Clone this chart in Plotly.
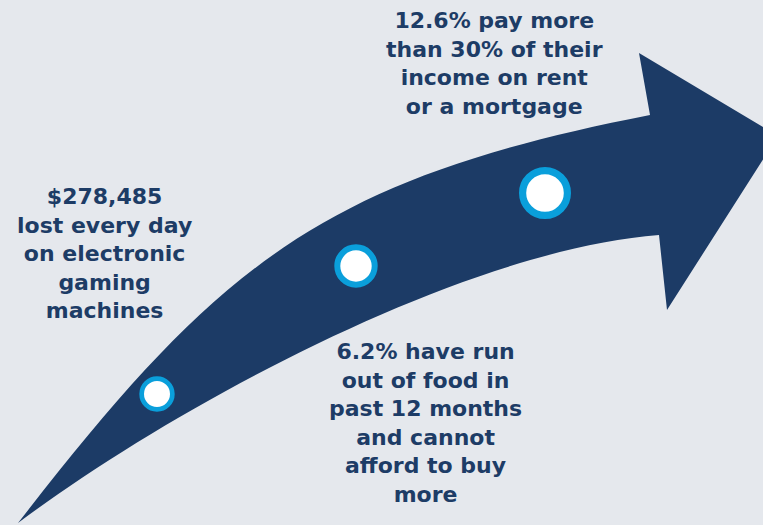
import plotly.graph_objects as go

# ---- data ----
stat_labels = [
    ["$278,485", "lost every day", "on electronic", "gaming", "machines"],
    ["12.6% pay more", "than 30% of their", "income on rent", "or a mortgage"],
    ["6.2% have run", "out of food in", "past 12 months", "and cannot", "afford to buy", "more"],
]
milestone_x = [157, 356, 545]
milestone_y = [394, 266, 193]
milestone_size = [30.7, 37.4, 44.8]
milestone_ring = [4.7, 6.0, 7.2]

# arrow outline control points (x, y in pixel-like data units)
arrow_upper = [(18, 523), (218.9, 264.7), (319.4, 179.6), (650, 115)]
arrow_head = [(639, 53), (778, 136), (667, 310), (659, 235)]
arrow_lower = [(659, 235), (458, 251), (168, 410.5), (18, 523)]

# ---- layout of text blocks ----
block_cx = [104, 494, 425]
block_y0 = [197, 21.7, 352.5]
line_gap = 28.6  # = 1.3 * font size

BG = "#e5e8ed"
NAVY = "#1c3b66"
RING = "#0a9fdb"
TEXT = "#1d3c66"

def fmt(p):
    return f"{p[0]},{p[1]}"

path = "M " + fmt(arrow_upper[0])
path += " C " + " ".join(fmt(p) for p in arrow_upper[1:])
for p in arrow_head:
    path += " L " + fmt(p)
path += " C " + " ".join(fmt(p) for p in arrow_lower[1:])
path += " Z"

fig = go.Figure()

fig.add_shape(type="path", path=path, xref="x", yref="y",
              fillcolor=NAVY, line=dict(width=0), layer="below")

fig.add_trace(go.Scatter(
    x=milestone_x, y=milestone_y, mode="markers",
    marker=dict(size=milestone_size, color="white", opacity=1,
                line=dict(color=RING, width=milestone_ring)),
    hoverinfo="skip", showlegend=False))

for lines, cx, y0 in zip(stat_labels, block_cx, block_y0):
    yc = y0 + (len(lines) - 1) * line_gap / 2 - 1
    fig.add_annotation(x=cx, y=yc, text="<br>".join(lines),
                       showarrow=False, xanchor="center", yanchor="middle",
                       align="center",
                       font=dict(family="DejaVu Sans", size=22, color=TEXT, weight="bold"))

fig.update_xaxes(range=[0, 763], visible=False, fixedrange=True)
fig.update_yaxes(range=[525, 0], visible=False, fixedrange=True)
fig.update_layout(width=763, height=525, margin=dict(l=0, r=0, t=0, b=0),
                  paper_bgcolor=BG, plot_bgcolor=BG, showlegend=False)

fig.write_html("out.html", config={"displayModeBar": False},
               post_script="document.body.style.margin='0';document.body.style.background='%s';" % BG)
